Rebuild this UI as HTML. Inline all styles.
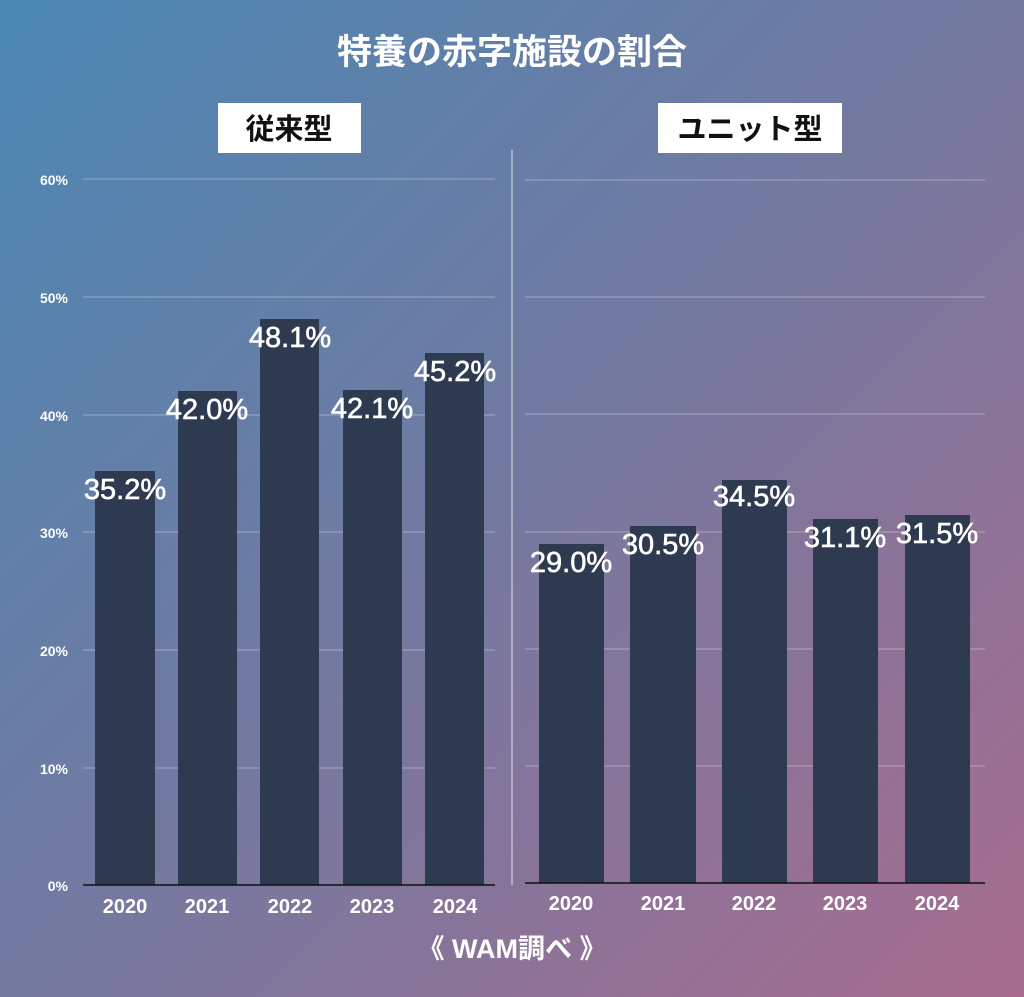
<!DOCTYPE html>
<html><head><meta charset="utf-8"><style>
body{margin:0;}
#c{position:relative;width:1024px;height:997px;overflow:hidden;background:linear-gradient(135deg,#4a88b4 0%,#7479a0 50%,#a86c8e 100%);font-family:"Liberation Sans","Noto Sans CJK JP",sans-serif;color:#fff;}
</style></head><body><div id="c">
<svg width="1024" height="997" style="position:absolute;left:0;top:0" font-family="Liberation Sans, Noto Sans CJK JP, sans-serif">
<g stroke="#ffffff" stroke-opacity="0.35" stroke-width="1">
<line x1="83" x2="495" y1="179" y2="179"/><line x1="83" x2="495" y1="297" y2="297"/><line x1="83" x2="495" y1="415" y2="415"/><line x1="83" x2="495" y1="532" y2="532"/><line x1="83" x2="495" y1="650" y2="650"/><line x1="83" x2="495" y1="768" y2="768"/>
<line x1="525" x2="985" y1="180" y2="180"/><line x1="525" x2="985" y1="297" y2="297"/><line x1="525" x2="985" y1="414" y2="414"/><line x1="525" x2="985" y1="532" y2="532"/><line x1="525" x2="985" y1="649" y2="649"/><line x1="525" x2="985" y1="766" y2="766"/>
<line x1="512" x2="512" y1="150" y2="885" stroke-opacity="0.8"/>
</g>
<g fill="#2e3a50">
<rect x="95" y="471" width="60" height="414"/>
<rect x="178" y="391" width="59" height="494"/>
<rect x="260" y="319" width="59" height="566"/>
<rect x="343" y="390" width="59" height="495"/>
<rect x="425" y="353" width="59" height="532"/>
<rect x="539" y="544" width="65" height="339"/>
<rect x="630" y="526" width="66" height="357"/>
<rect x="722" y="480" width="65" height="403"/>
<rect x="813" y="519" width="65" height="364"/>
<rect x="905" y="515" width="65" height="368"/>
</g>
<line x1="83" x2="495" y1="885" y2="885" stroke="#111" stroke-width="1.5"/>
<line x1="525" x2="985" y1="883" y2="883" stroke="#111" stroke-width="1.5"/>
<g fill="#fff" font-size="14" font-weight="bold" text-anchor="end">
<text x="68" y="185">60%</text><text x="68" y="303">50%</text><text x="68" y="421">40%</text><text x="68" y="538">30%</text><text x="68" y="656">20%</text><text x="68" y="774">10%</text><text x="68" y="891">0%</text>
</g>
<g fill="#fff" font-size="20" font-weight="bold" text-anchor="middle">
<text x="125" y="913">2020</text><text x="207" y="913">2021</text><text x="290" y="913">2022</text><text x="372" y="913">2023</text><text x="455" y="913">2024</text>
<text x="571" y="910">2020</text><text x="663" y="910">2021</text><text x="754" y="910">2022</text><text x="845" y="910">2023</text><text x="937" y="910">2024</text>
</g>
<g fill="#fff" font-size="29" text-anchor="middle" stroke="#fff" stroke-width="0.6">
<text x="125" y="499">35.2%</text><text x="207" y="419">42.0%</text><text x="290" y="347">48.1%</text><text x="372" y="418">42.1%</text><text x="455" y="381">45.2%</text>
<text x="571" y="572">29.0%</text><text x="663" y="554">30.5%</text><text x="754" y="506">34.5%</text><text x="845" y="547">31.1%</text><text x="937" y="543">31.5%</text>
</g>
<rect x="218" y="103" width="143" height="50" fill="#fff"/>
<rect x="658" y="103" width="184" height="50" fill="#fff"/>
<g font-size="29" font-weight="bold" text-anchor="middle" fill="#111">
<text x="289" y="139">従来型</text><text x="750" y="139">ユニット型</text>
</g>
<text x="512" y="64" fill="#fff" font-size="35" font-weight="bold" text-anchor="middle">特養の赤字施設の割合</text>
<text x="512" y="958" fill="#fff" font-size="27" font-weight="bold" text-anchor="middle">《 WAM調べ 》</text>
</svg>
</div></body></html>
